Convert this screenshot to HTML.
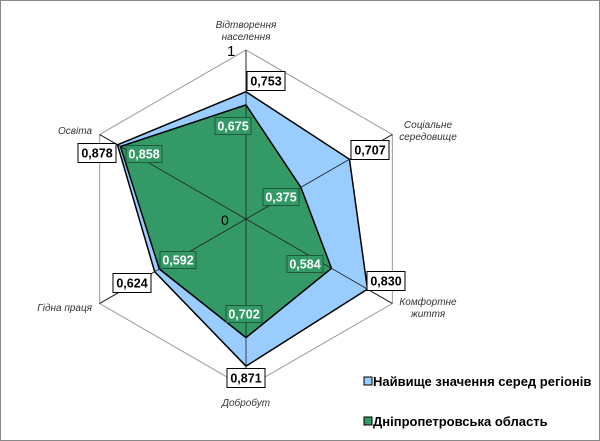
<!DOCTYPE html>
<html><head><meta charset="utf-8"><style>
body{margin:0;background:#fff}
svg{display:block;font-family:"Liberation Sans",Arial,sans-serif}
</style></head><body>
<svg width="600" height="441" viewBox="0 0 600 441">
<rect x="0.5" y="0.5" width="599" height="440" fill="#fff" stroke="#888"/>
<g id="grid"></g><g id="series"></g><g id="labels"></g>
<text x="227" y="56" font-size="15">1</text>
<text x="221" y="225" font-size="14">0</text>
<g>
<rect x="364" y="377" width="8" height="8" fill="#99ccff" stroke="#000"/>
<text x="373" y="386" font-size="13" font-weight="bold">Найвище значення серед регіонів</text>
<rect x="364" y="417" width="8" height="8" fill="#339966" stroke="#000"/>
<text x="373" y="426" font-size="13" font-weight="bold">Дніпропетровська область</text>
</g>
</svg>
<script>
const categories=[["Відтворення","населення"],["Соціальне","середовище"],["Комфортне","життя"],["Добробут"],["Гідна праця"],["Освіта"]];
const highest=[0.753,0.707,0.830,0.871,0.624,0.878];
const region=[0.675,0.375,0.584,0.702,0.592,0.858];
const cx=246,cy=219,R=169,NS="http://www.w3.org/2000/svg";
function ang(i){return -Math.PI/2+i*Math.PI/3;}
function pt(i,v){return [cx+R*v*Math.cos(ang(i)),cy+R*v*Math.sin(ang(i))];}
function mk(t,a,p){const e=document.createElementNS(NS,t);for(const k in a)e.setAttribute(k,a[k]);p.appendChild(e);return e;}
const g=document.getElementById('grid');
const hex=mk('polygon',{points:categories.map((c,i)=>pt(i,1).join(',')).join(' '),fill:'none',stroke:'#999','stroke-width':1},g);


categories.forEach((c,i)=>{const p=pt(i,1);const l=mk('line',{x1:cx,y1:cy,x2:p[0],y2:p[1],stroke:'#333','stroke-width':1},g);

});
const s=document.getElementById('series');
const pb=mk('polygon',{points:highest.map((v,i)=>pt(i,v).join(',')).join(' '),fill:'#99ccff',stroke:'#000','stroke-width':1.5},s);


const pg=mk('polygon',{points:region.map((v,i)=>pt(i,v).join(',')).join(' '),fill:'#339966',stroke:'#000','stroke-width':1.5},s);


// redraw spokes over fills
categories.forEach((c,i)=>{const p=pt(i,1);const l=mk('line',{x1:cx,y1:cy,x2:p[0],y2:p[1],stroke:'#222','stroke-width':0.8},s);

});
const L=document.getElementById('labels');
const catPos=[[246,28,'middle'],[428,128,'middle'],[428,305,'middle'],[246,406,'middle'],[92,311,'end'],[92,134,'end']];
categories.forEach((c,i)=>{const [x,y,a]=catPos[i];const t=mk('text',{x:x,y:y,'text-anchor':a,'font-size':10,'font-style':'italic',fill:'#333'},L);


c.forEach((line,j)=>{const ts=mk('tspan',{x:x,dy:j?12:0},t);ts.textContent=line;});});
const hiPos=[[266,81],[370,150],[386,281],[246,378],[132,283],[97,153]];
const rgPos=[[233,126],[281,197],[305,264],[244,314],[178,260],[144,154]];
function box(x,y,txt,fill,stroke,col,name,w,h){const b=mk('rect',{x:x-w/2,y:y-h/2,width:w,height:h,fill:fill,stroke:stroke,'stroke-width':1},L);


const t=mk('text',{x:x,y:y+4.5,'text-anchor':'middle','font-size':12.5,'font-weight':'bold',fill:col},L);


t.textContent=txt;}
highest.forEach((v,i)=>box(hiPos[i][0],hiPos[i][1],v.toFixed(3).replace('.',','),'#fff','#000','#000','value-label-highest',38,19));
region.forEach((v,i)=>box(rgPos[i][0],rgPos[i][1],v.toFixed(3).replace('.',','),'#339966','#1e5a3a','#fff','value-label-region',36,17));
</script>
</body></html>
